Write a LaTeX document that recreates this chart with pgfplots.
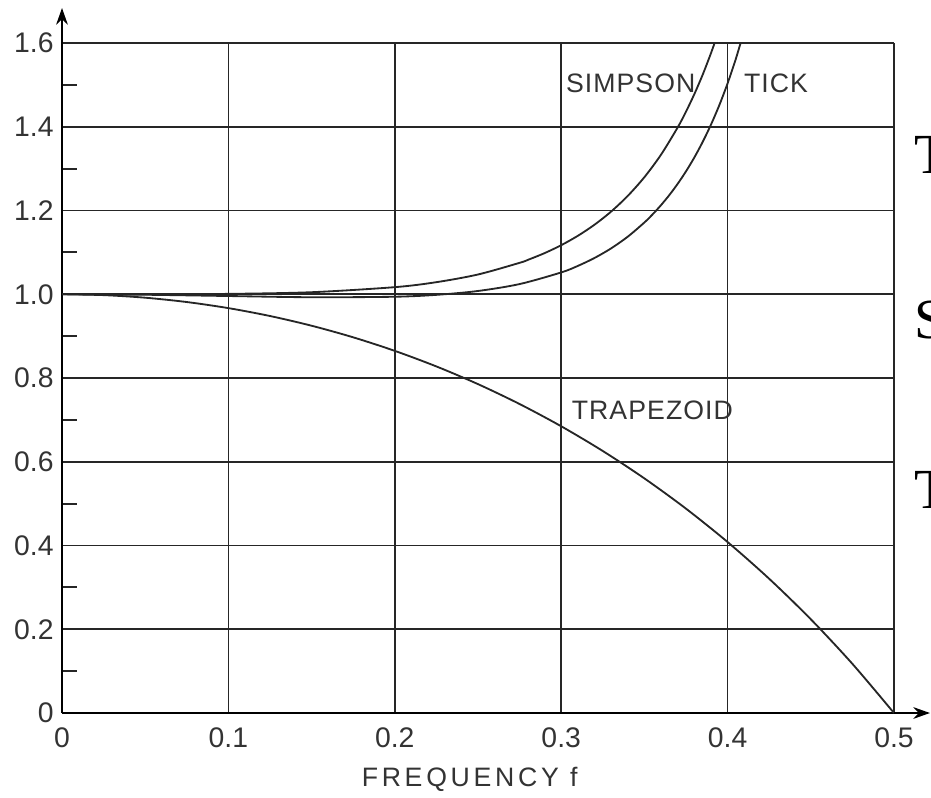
\documentclass[border=0pt]{standalone}
\usepackage{fontspec}
\setmainfont{Liberation Sans}
\newfontfamily\serifT{Liberation Serif}
\usepackage{pgfplots}
\pgfplotsset{compat=1.18}
\usetikzlibrary{arrows.meta}

\begin{document}
\begin{tikzpicture}
% page frame (1 px of the reference = 0.3pt)
\useasboundingbox (-18.6pt,-25.2pt) rectangle (260.7pt,213.9pt);
\begin{axis}[
    at={(0,0)}, anchor=south west,
    scale only axis,
    width=249.6pt, height=201pt,
    xmin=0, xmax=0.5, ymin=0, ymax=1.6,
    axis lines=left,
    x axis line style={line width=0.7pt, -{Stealth[length=5pt,width=3.5pt]}, shorten >=-10.8pt},
    y axis line style={line width=0.7pt, -{Stealth[length=5pt,width=3.5pt]}, shorten >=-10.5pt},
    xtick={0,0.1,0.2,0.3,0.4,0.5},
    xticklabels={0,0.1,0.2,0.3,0.4,0.5},
    ytick={0,0.2,0.4,0.6,0.8,1.0,1.2,1.4,1.6},
    yticklabels={0,0.2,0.4,0.6,0.8,1.0,1.2,1.4,1.6},
    minor ytick={0.1,0.3,0.5,0.7,0.9,1.1,1.3,1.5},
    major tick length=0pt,
    minor tick length=4.5pt,
    tick align=inside,
    tick style={black!85, line width=0.6pt},
    grid=major,
    major grid style={black!85, line width=0.5pt},
    ticklabel style={font=\fontsize{8.5}{10}\selectfont, black!80},
    yticklabel style={xshift=1pt},
    xticklabel style={yshift=-1pt},
    /pgf/number format/assume math mode=true,
    xlabel={\addfontfeature{LetterSpace=14}FREQUENCY f},
    xlabel style={font=\fontsize{8}{9}\selectfont, black!80, at={(axis description cs:0.49,0)}, anchor=north, inner sep=0pt, yshift=-16.2pt},
    clip mode=individual,
]
% trapezoid
\addplot[black!85, line width=0.55pt, smooth] coordinates {
 (0,1) (0.025,0.99794) (0.05,0.99177) (0.075,0.98142) (0.1,0.96689)
 (0.125,0.94806) (0.15,0.92486) (0.175,0.89716) (0.2,0.86480)
 (0.225,0.82762) (0.25,0.78540) (0.275,0.73787) (0.3,0.68475)
 (0.325,0.62568) (0.35,0.56025) (0.375,0.48798) (0.4,0.40831)
 (0.425,0.32055) (0.45,0.22391) (0.475,0.11744) (0.5,0)
};
% Simpson
\addplot[black!85, line width=0.55pt, smooth] coordinates {
 (0,1) (0.05,1.00005) (0.1,1.00091) (0.15,1.00489)
 (0.2,1.01697) (0.225,1.02886) (0.25,1.04720)
 (0.275,1.07505) (0.28,1.08214) (0.29,1.09820) (0.3,1.11715)
 (0.31,1.13954) (0.32,1.16603) (0.33,1.19745) (0.34,1.23486) (0.35,1.27959)
 (0.36,1.33335) (0.37,1.39839) (0.375,1.43604) (0.38,1.47774) (0.385,1.52400)
 (0.39,1.57550) (0.393,1.60931)
};
% Tick
\addplot[black!85, line width=0.55pt, smooth] coordinates {
 (0,1) (0.05,0.99881) (0.1,0.99579) (0.15,0.99286)
 (0.2,0.99409) (0.225,0.99860) (0.25,1.00782)
 (0.275,1.02434) (0.3,1.05210) (0.31,1.06769) (0.32,1.08661) (0.33,1.10957)
 (0.34,1.13746) (0.35,1.17140) (0.355,1.19108) (0.36,1.21285) (0.365,1.23697)
 (0.37,1.26372) (0.375,1.29345) (0.38,1.32657) (0.385,1.36352) (0.39,1.40489)
 (0.395,1.45130) (0.4,1.50359) (0.405,1.56269) (0.41,1.62978)
};
\node[font=\fontsize{8}{9}\selectfont\addfontfeature{LetterSpace=4}, black!80, anchor=west, inner sep=0pt] at (axis cs:0.3025,1.504) {SIMPSON};
\node[font=\fontsize{8}{9}\selectfont\addfontfeature{LetterSpace=4}, black!80, anchor=west, inner sep=0pt] at (axis cs:0.4095,1.504) {TICK};
\node[font=\fontsize{8}{9}\selectfont\addfontfeature{LetterSpace=4}, black!80, anchor=west, inner sep=0pt] at (axis cs:0.306,0.724) {TRAPEZOID};
\end{axis}
% letters of the neighbouring page text, cut by the frame
\node[font=\serifT\fontsize{17}{18}\selectfont, anchor=west, inner sep=0pt] at (255.6pt,167.4pt) {T};
\node[font=\serifT\fontsize{17}{18}\selectfont, anchor=west, inner sep=0pt] at (255.6pt,117.9pt) {S};
\node[font=\serifT\fontsize{17}{18}\selectfont, anchor=west, inner sep=0pt] at (255.6pt,66.9pt) {T};
\end{tikzpicture}
\end{document}
